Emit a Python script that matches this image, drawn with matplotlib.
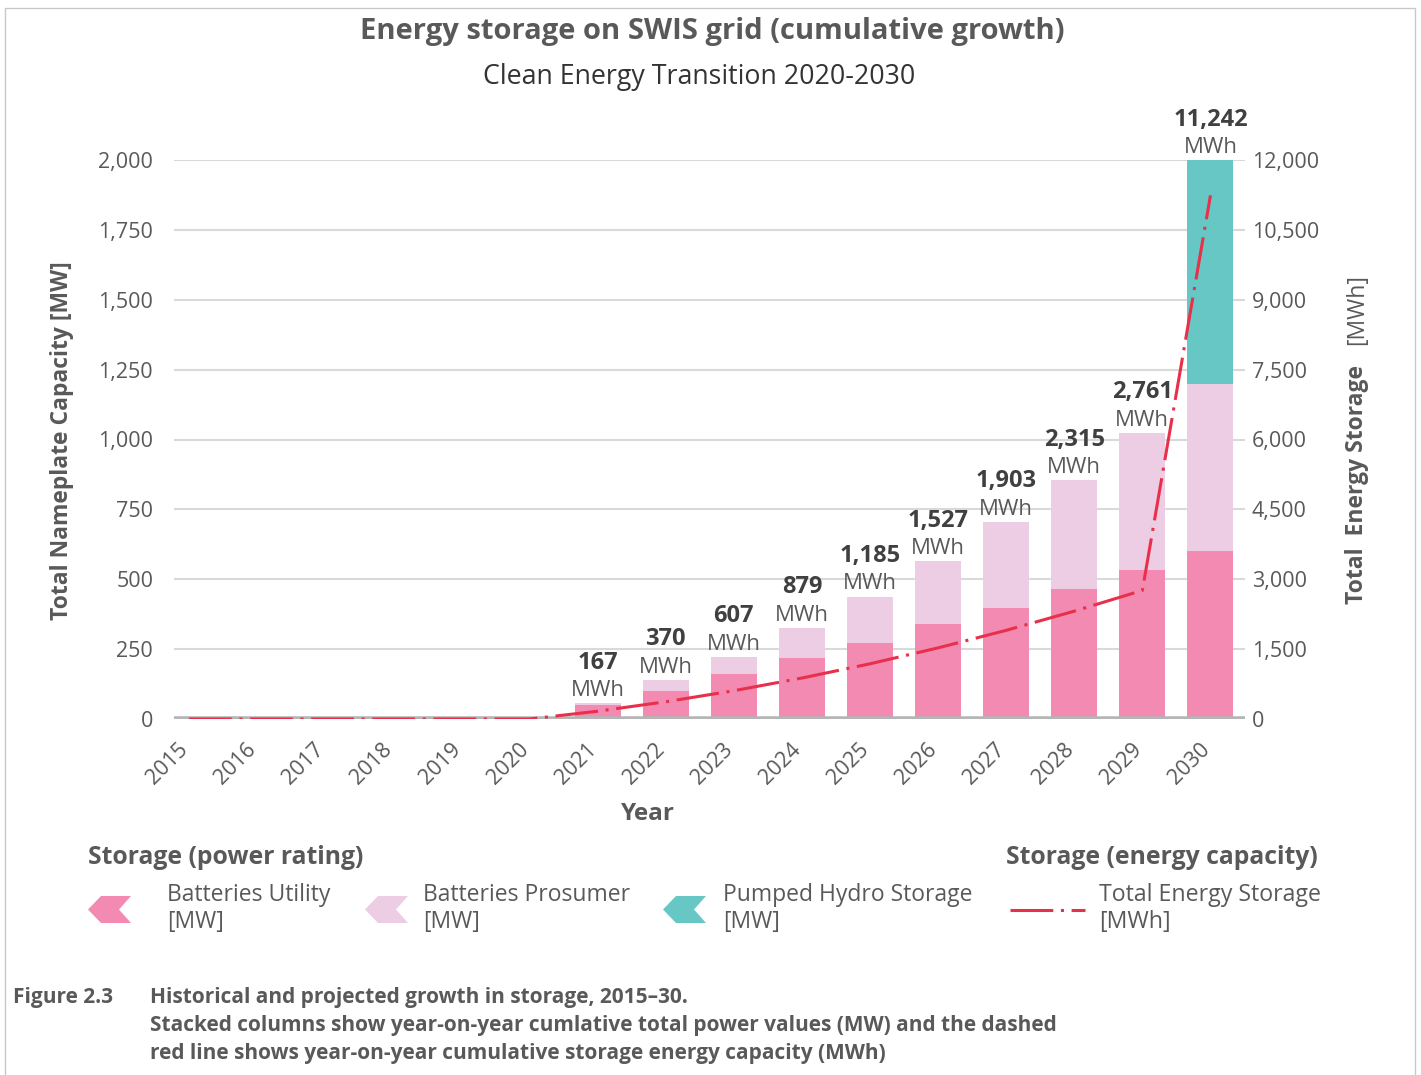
import matplotlib
matplotlib.use("Agg")
import matplotlib.pyplot as plt
from matplotlib.patches import Polygon
from matplotlib.lines import Line2D
from matplotlib.transforms import ScaledTranslation

plt.rcParams['font.family'] = ['Open Sans', 'DejaVu Sans']

years = [str(y) for y in range(2015, 2031)]
batteries_utility = [0, 0, 0, 0, 0, 0, 49, 101, 162, 220, 273, 340, 398, 466, 533, 600]
batteries_prosumer = [0, 0, 0, 0, 0, 0, 8, 40, 60, 106, 165, 224, 307, 388, 491, 600]
pumped_hydro = [0, 0, 0, 0, 0, 0, 0, 0, 0, 0, 0, 0, 0, 0, 0, 800]
total_energy_mwh = [0, 0, 0, 0, 0, 0, 167, 370, 607, 879, 1185, 1527, 1903, 2315, 2761, 11242]
left_ticks = [0, 250, 500, 750, 1000, 1250, 1500, 1750, 2000]
right_ticks = [0, 1500, 3000, 4500, 6000, 7500, 9000, 10500, 12000]

C_UTIL = '#f28ab2'
C_PROS = '#eccde3'
C_HYDRO = '#66c7c5'
C_LINE = '#e8304a'
C_TEXT = '#595959'
C_DARK = '#404040'

FS_TICK = 15.5
FS_LAB = 16.5

W, H = 1421, 1075
fig = plt.figure(figsize=(W / 100, H / 100), dpi=100)
ax = fig.add_axes([174 / W, 356 / H, 1071 / W, 559 / H])

x = list(range(len(years)))
bw = 0.675
ax.bar(x, batteries_utility, width=bw, color=C_UTIL, zorder=2)
ax.bar(x, batteries_prosumer, width=bw, bottom=batteries_utility, color=C_PROS, zorder=2)
bottom2 = [a + b for a, b in zip(batteries_utility, batteries_prosumer)]
ax.bar(x, pumped_hydro, width=bw, bottom=bottom2, color=C_HYDRO, zorder=2)

ax.set_xlim(-0.22, 15.507)
ax.set_ylim(0, 2000)
ax.set_yticks(left_ticks, labels=[f"{v:,}" for v in left_ticks])
ax.grid(axis='y', color='#d9d9d9', lw=1.5, zorder=0)
ax.set_axisbelow(True)
for s in ax.spines.values():
    s.set_visible(False)
ax.axhline(0, color='#b5b5b5', lw=4, zorder=3)
ax.tick_params(axis='y', length=0, pad=15, labelsize=FS_TICK, labelcolor=C_TEXT)
ax.set_xticks(x, labels=years, rotation=45, ha='right', va='center', rotation_mode='anchor')
ax.tick_params(axis='x', length=0, pad=20, labelsize=FS_TICK, labelcolor=C_TEXT)
for lab in ax.get_xticklabels():
    lab.set_transform(lab.get_transform() + ScaledTranslation(-0.04, 0, fig.dpi_scale_trans))

ax2 = ax.twinx()
ax2.set_ylim(0, 12000)
ax2.set_yticks(right_ticks, labels=[f"{v:,}" for v in right_ticks])
ax2.tick_params(axis='y', length=0, pad=5, labelsize=FS_TICK, labelcolor=C_TEXT)
for s in ax2.spines.values():
    s.set_visible(False)
ax2.plot(x, total_energy_mwh, color=C_LINE, lw=2.2, ls=(0, (14, 2.5, 1, 2.5)), zorder=4)

# value labels above bars
totals = [a + b + c for a, b, c in zip(batteries_utility, batteries_prosumer, pumped_hydro)]
for i, (t, e) in enumerate(zip(totals, total_energy_mwh)):
    if e <= 0:
        continue
    ax.annotate("MWh", (i, t), xytext=(0, 1.5), textcoords='offset points',
                ha='center', va='bottom', fontsize=16, color=C_TEXT, zorder=6)
    ax.annotate(f"{e:,}", (i, t), xytext=(0, 20.5), textcoords='offset points',
                ha='center', va='bottom', fontsize=17, fontweight='bold', color=C_DARK, zorder=6)

# titles
fig.text(712 / W, 1 - 32 / H, "Energy storage on SWIS grid (cumulative growth)", ha='center', va='center',
         fontsize=21, fontweight='bold', color=C_TEXT)
fig.text(699 / W, 1 - 77 / H, "Clean Energy Transition 2020-2030", ha='center', va='center',
         fontsize=19.3, color='#333333')

# axis labels
fig.text(62 / W, 1 - 441 / H, "Total Nameplate Capacity [MW]", rotation=90, ha='center', va='center',
         fontsize=FS_LAB, fontweight='bold', color=C_TEXT)
fig.text(1357 / W, 1 - 604 / H, "Total  Energy Storage", rotation=90, ha='center', va='bottom',
         fontsize=FS_LAB, fontweight='bold', color=C_TEXT)
fig.text(1357 / W, 1 - 345 / H, "[MWh]", rotation=90, ha='center', va='bottom',
         fontsize=FS_LAB, color=C_TEXT)
fig.text(648 / W, 1 - 814 / H, "Year", ha='center', va='center', fontsize=17.5, fontweight='bold', color=C_TEXT)

# legend
fig.text(88 / W, 1 - 857 / H, "Storage (power rating)", ha='left', va='center', fontsize=17.8,
         fontweight='bold', color=C_TEXT)
fig.text(1318 / W, 1 - 857 / H, "Storage (energy capacity)", ha='right', va='center', fontsize=17.8,
         fontweight='bold', color=C_TEXT)

def chevron(x0, color):
    pts = [(x0, 909.5), (x0 + 13, 896), (x0 + 43, 896), (x0 + 31, 909.5), (x0 + 43, 923), (x0 + 13, 923)]
    fig.patches.append(Polygon([(px / W, 1 - py / H) for px, py in pts], closed=True,
                               transform=fig.transFigure, facecolor=color, edgecolor='none'))

legend_items = [(88, 167, C_UTIL, "Batteries Utility", "[MW]"),
                (365, 423, C_PROS, "Batteries Prosumer", "[MW]"),
                (663, 723, C_HYDRO, "Pumped Hydro Storage", "[MW]")]
for cx, tx, col, l1, l2 in legend_items:
    chevron(cx, col)
    fig.text(tx / W, 1 - 895 / H, l1, ha='left', va='center', fontsize=16.5, color=C_TEXT)
    fig.text(tx / W, 1 - 922 / H, l2, ha='left', va='center', fontsize=16.5, color=C_TEXT)
fig.lines.append(Line2D([1010 / W, 1085 / W], [1 - 909.5 / H, 1 - 909.5 / H], transform=fig.transFigure,
                        color=C_LINE, lw=2.2, ls=(0, (14, 2.5, 1, 2.5))))
fig.text(1099 / W, 1 - 895 / H, "Total Energy Storage", ha='left', va='center', fontsize=16.7, color=C_TEXT)
fig.text(1099 / W, 1 - 922 / H, "[MWh]", ha='left', va='center', fontsize=16.7, color=C_TEXT)

# caption
fig.text(13 / W, 1 - 997 / H, "Figure 2.3", ha='left', va='center', fontsize=15, fontweight='bold', color=C_TEXT)
fig.text(150 / W, 1 - 997 / H, "Historical and projected growth in storage, 2015\u201330.", ha='left', va='center',
         fontsize=15, fontweight='bold', color=C_TEXT)
fig.text(150 / W, 1 - 1025 / H,
         "Stacked columns show year-on-year cumlative total power values (MW) and the dashed",
         ha='left', va='center', fontsize=15, fontweight='bold', color=C_TEXT)
fig.text(150 / W, 1 - 1054 / H, "red line shows year-on-year cumulative storage energy capacity (MWh)",
         ha='left', va='center', fontsize=15, fontweight='bold', color=C_TEXT)

# frame
frame_pts = [(5, H + 5), (5, 8), (1415, 8), (1415, H + 5)]
fig.lines.append(Line2D([p[0] / W for p in frame_pts], [1 - p[1] / H for p in frame_pts],
                        transform=fig.transFigure, color='#c8c8c8', lw=1))

fig.savefig("out.png", dpi=100)
